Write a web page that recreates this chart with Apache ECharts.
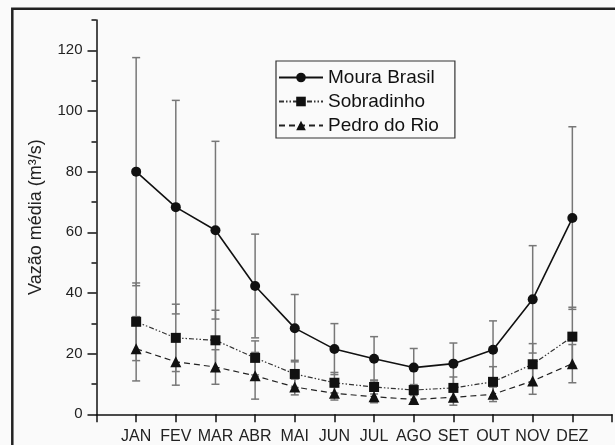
<!DOCTYPE html>
<html>
<head>
<meta charset="utf-8">
<script src="https://cdn.jsdelivr.net/npm/echarts@6/dist/echarts.min.js"></script>
<style>
html,body{margin:0;padding:0;background:#fafafa;}
#chart{width:615px;height:445px;}
</style>
</head>
<body>
<div id="chart"></div>
<script>
var months = ['JAN','FEV','MAR','ABR','MAI','JUN','JUL','AGO','SET','OUT','NOV','DEZ'];
var mouraMean = [80, 68.3, 60.7, 42.3, 28.4, 21.5, 18.3, 15.4, 16.7, 21.3, 37.9, 64.7];
var mouraSd   = [37.6, 35.2, 29.3, 17.1, 11.1, 8.4, 7.3, 6.3, 6.8, 9.5, 17.7, 30.1];
var sobMean   = [30.5, 25.2, 24.4, 18.6, 13.3, 10.4, 9.0, 8.0, 8.7, 10.7, 16.5, 25.6];
var sobSd     = [12.8, 11.1, 9.9, 5.6, 4.5, 3.4, 2.3, 1.8, 3.6, 5.0, 6.8, 9.7];
var pedroMean = [21.6, 17.3, 15.6, 12.7, 9.0, 6.9, 5.8, 4.9, 5.6, 6.6, 11.0, 16.7];
var pedroSd   = [10.6, 7.7, 5.7, 7.7, 2.6, 2.2, 2.0, 1.6, 2.6, 2.4, 4.4, 6.3];
var yMajorTicks = [0, 20, 40, 60, 80, 100, 120];
var yMinorTicks = [10, 30, 50, 70, 90, 110, 130];

var FONT = 'Liberation Sans, Arial, sans-serif';

function pts(arr){ return arr.map(function(v,i){ return [i+1, v]; }); }
function errData(mean, sd){ return mean.map(function(v,i){ return [i+1, v - sd[i], v + sd[i]]; }); }

function errRender(params, api){
  var x = api.value(0);
  var lo = api.coord([x, api.value(1)]);
  var hi = api.coord([x, api.value(2)]);
  var hw = 4;
  var st = {stroke:'#777', lineWidth:1.5, fill:'none'};
  return {type:'group', children:[
    {type:'line', shape:{x1:lo[0], y1:lo[1], x2:hi[0], y2:hi[1]}, style:st},
    {type:'line', shape:{x1:lo[0]-hw, y1:lo[1], x2:lo[0]+hw, y2:lo[1]}, style:st},
    {type:'line', shape:{x1:hi[0]-hw, y1:hi[1], x2:hi[0]+hw, y2:hi[1]}, style:st}
  ]};
}

var chart = echarts.init(document.getElementById('chart'));
chart.setOption({
  backgroundColor:'#fafafa',
  animation:false,
  grid:{left:96.5, top:20, right:1.2, bottom:30.7, containLabel:false},
  xAxis:{
    type:'value', min:0, max:13, interval:1,
    axisLine:{lineStyle:{color:'#111', width:1.5}},
    axisTick:{show:true, length:8, inside:false, lineStyle:{color:'#111', width:1.5}},
    splitLine:{show:false},
    axisLabel:{margin:14, color:'#222', fontSize:16, fontFamily:FONT,
      formatter:function(v){ return (v>=1 && v<=12) ? months[v-1] : ''; }}
  },
  yAxis:[{
    type:'value', min:0, max:130, interval:10,
    name:'Vazão média (m³/s)', nameLocation:'middle', nameGap:51,
    nameTextStyle:{fontSize:18, color:'#222', fontFamily:FONT},
    axisLine:{show:true, lineStyle:{color:'#111', width:1.5}},
    axisTick:{show:true, length:9, customValues:yMajorTicks, lineStyle:{color:'#111', width:1.5}},
    splitLine:{show:false},
    axisLabel:{margin:14, color:'#222', fontSize:15, fontFamily:FONT, customValues:yMajorTicks}
  },{
    type:'value', min:0, max:130, interval:10, position:'left',
    axisLine:{show:false},
    axisTick:{show:true, length:5, customValues:yMinorTicks, lineStyle:{color:'#111', width:1.5}},
    splitLine:{show:false},
    axisLabel:{show:false}
  }],
  legend:{
    data:['Moura Brasil','Sobradinho','Pedro do Rio'],
    orient:'vertical', left:276, top:61,
    padding:[7, 16, 3, 2], itemGap:5, itemWidth:44, itemHeight:12,
    borderColor:'#333', borderWidth:1.2, backgroundColor:'#fafafa',
    textStyle:{fontSize:19, color:'#111', fontFamily:FONT, lineHeight:18}
  },
  graphic:[{
    type:'rect', silent:true, z:100,
    shape:{x:12.3, y:8.7, width:640, height:480},
    style:{fill:'none', stroke:'#222', lineWidth:2.5}
  }],
  series:[
    {type:'custom', name:'errM', renderItem:errRender, data:errData(mouraMean, mouraSd), z:1, encode:{x:0, y:[1,2]}},
    {type:'custom', name:'errS', renderItem:errRender, data:errData(sobMean, sobSd), z:1, encode:{x:0, y:[1,2]}},
    {type:'custom', name:'errP', renderItem:errRender, data:errData(pedroMean, pedroSd), z:1, encode:{x:0, y:[1,2]}},
    {type:'line', name:'Moura Brasil', data:pts(mouraMean), z:5,
      symbol:'circle', symbolSize:10, color:'#111',
      itemStyle:{color:'#111'}, lineStyle:{color:'#111', width:1.6}},
    {type:'line', name:'Sobradinho', data:pts(sobMean), z:5,
      symbol:'rect', symbolSize:10, color:'#111',
      itemStyle:{color:'#111'}, lineStyle:{color:'#333', width:1.2, type:[5,2,1.5,2,1.5,2]}},
    {type:'line', name:'Pedro do Rio', data:pts(pedroMean), z:5,
      symbol:'triangle', symbolSize:11, color:'#111',
      itemStyle:{color:'#111'}, lineStyle:{color:'#222', width:1.2, type:[6,4]}}
  ]
});
</script>
</body>
</html>
